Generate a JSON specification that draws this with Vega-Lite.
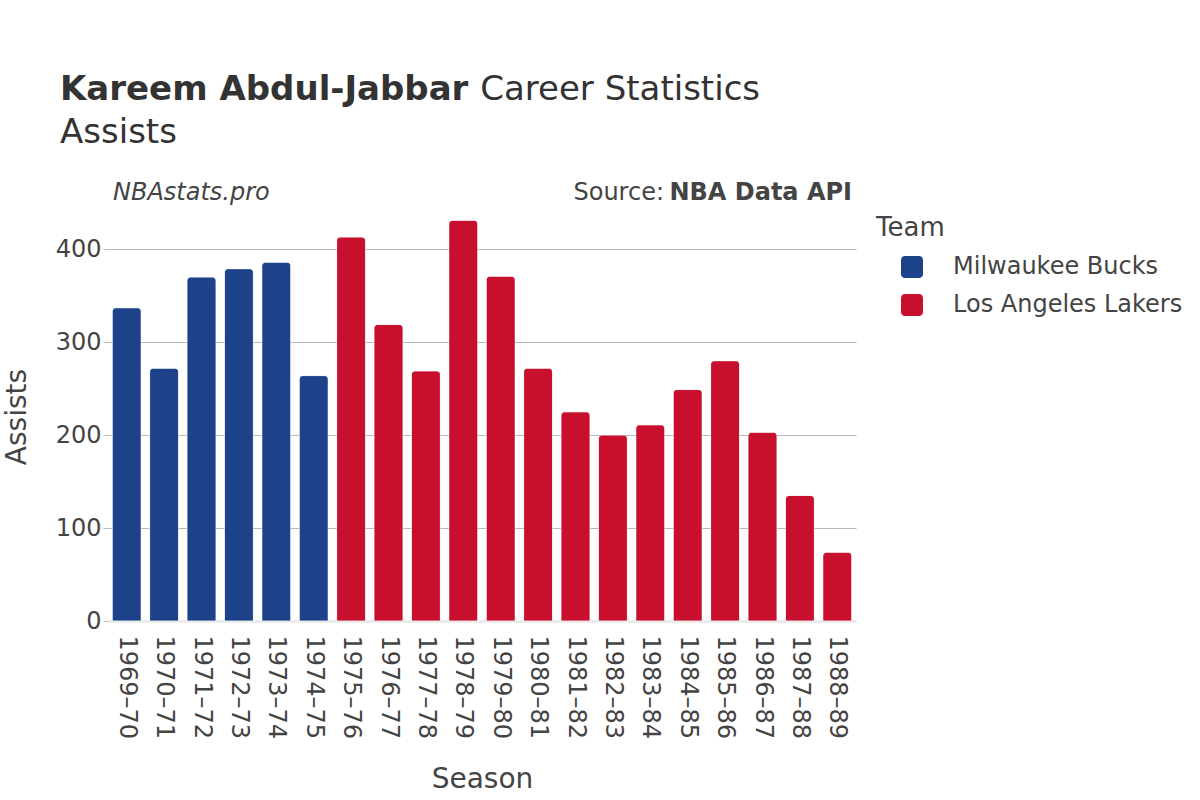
{
  "$schema": "https://vega.github.io/schema/vega-lite/v6.json",
  "width": 748,
  "height": 409,
  "padding": {"top": 72, "left": 3, "right": 5, "bottom": 5},
  "background": "white",
  "config": {
    "font": "DejaVu Sans",
    "view": {"stroke": null},
    "axis": {"labelColor": "#444444", "titleColor": "#444444", "titleFontWeight": "normal"},
    "legend": {"labelColor": "#444444", "titleColor": "#444444"}
  },
  "datasets": {
    "stats": [
      {"season": "1969–70", "team": "Milwaukee Bucks", "assists": 337},
      {"season": "1970–71", "team": "Milwaukee Bucks", "assists": 272},
      {"season": "1971–72", "team": "Milwaukee Bucks", "assists": 370},
      {"season": "1972–73", "team": "Milwaukee Bucks", "assists": 379},
      {"season": "1973–74", "team": "Milwaukee Bucks", "assists": 386},
      {"season": "1974–75", "team": "Milwaukee Bucks", "assists": 264},
      {"season": "1975–76", "team": "Los Angeles Lakers", "assists": 413},
      {"season": "1976–77", "team": "Los Angeles Lakers", "assists": 319},
      {"season": "1977–78", "team": "Los Angeles Lakers", "assists": 269},
      {"season": "1978–79", "team": "Los Angeles Lakers", "assists": 431},
      {"season": "1979–80", "team": "Los Angeles Lakers", "assists": 371},
      {"season": "1980–81", "team": "Los Angeles Lakers", "assists": 272},
      {"season": "1981–82", "team": "Los Angeles Lakers", "assists": 225},
      {"season": "1982–83", "team": "Los Angeles Lakers", "assists": 200},
      {"season": "1983–84", "team": "Los Angeles Lakers", "assists": 211},
      {"season": "1984–85", "team": "Los Angeles Lakers", "assists": 249},
      {"season": "1985–86", "team": "Los Angeles Lakers", "assists": 280},
      {"season": "1986–87", "team": "Los Angeles Lakers", "assists": 203},
      {"season": "1987–88", "team": "Los Angeles Lakers", "assists": 135},
      {"season": "1988–89", "team": "Los Angeles Lakers", "assists": 74}
    ]
  },
  "layer": [
    {
      "data": {"name": "stats"},
      "mark": {"type": "bar", "cornerRadiusEnd": 4, "stroke": "#ffffff", "strokeWidth": 1, "strokeOpacity": 0.45},
      "encoding": {
        "x": {
          "field": "season", "type": "ordinal", "sort": null,
          "scale": {"paddingInner": 0.225, "paddingOuter": 0.1125},
          "axis": {
            "title": "Season", "titleFontSize": 28, "titlePadding": 27,
            "labelAngle": 90, "labelAlign": "left", "labelBaseline": "middle",
            "labelFontSize": 24, "labelPadding": 14, "ticks": false,
            "domainColor": "#e8e8e8", "domainWidth": 2
          }
        },
        "y": {
          "field": "assists", "type": "quantitative",
          "scale": {"domain": [0, 440], "nice": false},
          "axis": {
            "title": "Assists", "titleFontSize": 28, "titlePadding": 24,
            "values": [0, 100, 200, 300, 400],
            "labelFontSize": 24, "labelPadding": 2,
            "domain": false, "tickSize": 5, "tickColor": "#bbbbbb",
            "gridColor": {"condition": {"test": "datum.value === 0", "value": "#e8e8e8"}, "value": "#b8b8b8"},
            "gridWidth": {"condition": {"test": "datum.value === 0", "value": 2}, "value": 1.2}
          }
        },
        "color": {
          "field": "team", "type": "nominal",
          "scale": {"domain": ["Milwaukee Bucks", "Los Angeles Lakers"], "range": ["#1d428a", "#c8102e"]},
          "legend": {
            "title": "Team", "titleFontSize": 26, "titleFontWeight": "normal", "titlePadding": 14,
            "labelFontSize": 24, "labelOffset": 29, "rowPadding": 14, "labelLimit": 400,
            "symbolType": "M-1,-0.6Q-1,-1,-0.6,-1L0.6,-1Q1,-1,1,-0.6L1,0.6Q1,1,0.6,1L-0.6,1Q-1,1,-1,0.6Z",
            "symbolSize": 484, "symbolOffset": 24, "symbolStrokeWidth": 0, "symbolOpacity": 1,
            "padding": 3, "offset": 17
          }
        }
      }
    },
    {
      "data": {"values": [{"label": "Kareem Abdul-Jabbar"}]},
      "mark": {"type": "text", "align": "left", "baseline": "alphabetic", "fontSize": 34, "fontWeight": "bold", "color": "#333333", "dx": -66.7},
      "encoding": {
        "x": {"datum": "1969–70", "type": "ordinal"},
        "y": {"datum": 561, "type": "quantitative"},
        "text": {"field": "label"}
      }
    },
    {
      "data": {"values": [{"label": "Career Statistics"}]},
      "mark": {"type": "text", "align": "left", "baseline": "alphabetic", "fontSize": 34, "color": "#333333", "dx": 353.5},
      "encoding": {
        "x": {"datum": "1969–70", "type": "ordinal"},
        "y": {"datum": 561, "type": "quantitative"},
        "text": {"field": "label"}
      }
    },
    {
      "data": {"values": [{"label": "Assists"}]},
      "mark": {"type": "text", "align": "left", "baseline": "alphabetic", "fontSize": 34, "color": "#333333", "dx": -66.7},
      "encoding": {
        "x": {"datum": "1969–70", "type": "ordinal"},
        "y": {"datum": 514, "type": "quantitative"},
        "text": {"field": "label"}
      }
    },
    {
      "data": {"values": [{"label": "NBAstats.pro"}]},
      "mark": {"type": "text", "align": "left", "baseline": "alphabetic", "fontSize": 24, "fontStyle": "italic", "color": "#444444", "dx": -13.7},
      "encoding": {
        "x": {"datum": "1969–70", "type": "ordinal"},
        "y": {"datum": 453, "type": "quantitative"},
        "text": {"field": "label"}
      }
    },
    {
      "data": {"values": [{"label": "NBA Data API"}]},
      "mark": {"type": "text", "align": "right", "baseline": "alphabetic", "fontSize": 24, "fontWeight": "bold", "color": "#444444", "dx": 14.7},
      "encoding": {
        "x": {"datum": "1988–89", "type": "ordinal"},
        "y": {"datum": 453, "type": "quantitative"},
        "text": {"field": "label"}
      }
    },
    {
      "data": {"values": [{"label": "Source:"}]},
      "mark": {"type": "text", "align": "right", "baseline": "alphabetic", "fontSize": 24, "color": "#444444", "dx": -173.3},
      "encoding": {
        "x": {"datum": "1988–89", "type": "ordinal"},
        "y": {"datum": 453, "type": "quantitative"},
        "text": {"field": "label"}
      }
    }
  ]
}
